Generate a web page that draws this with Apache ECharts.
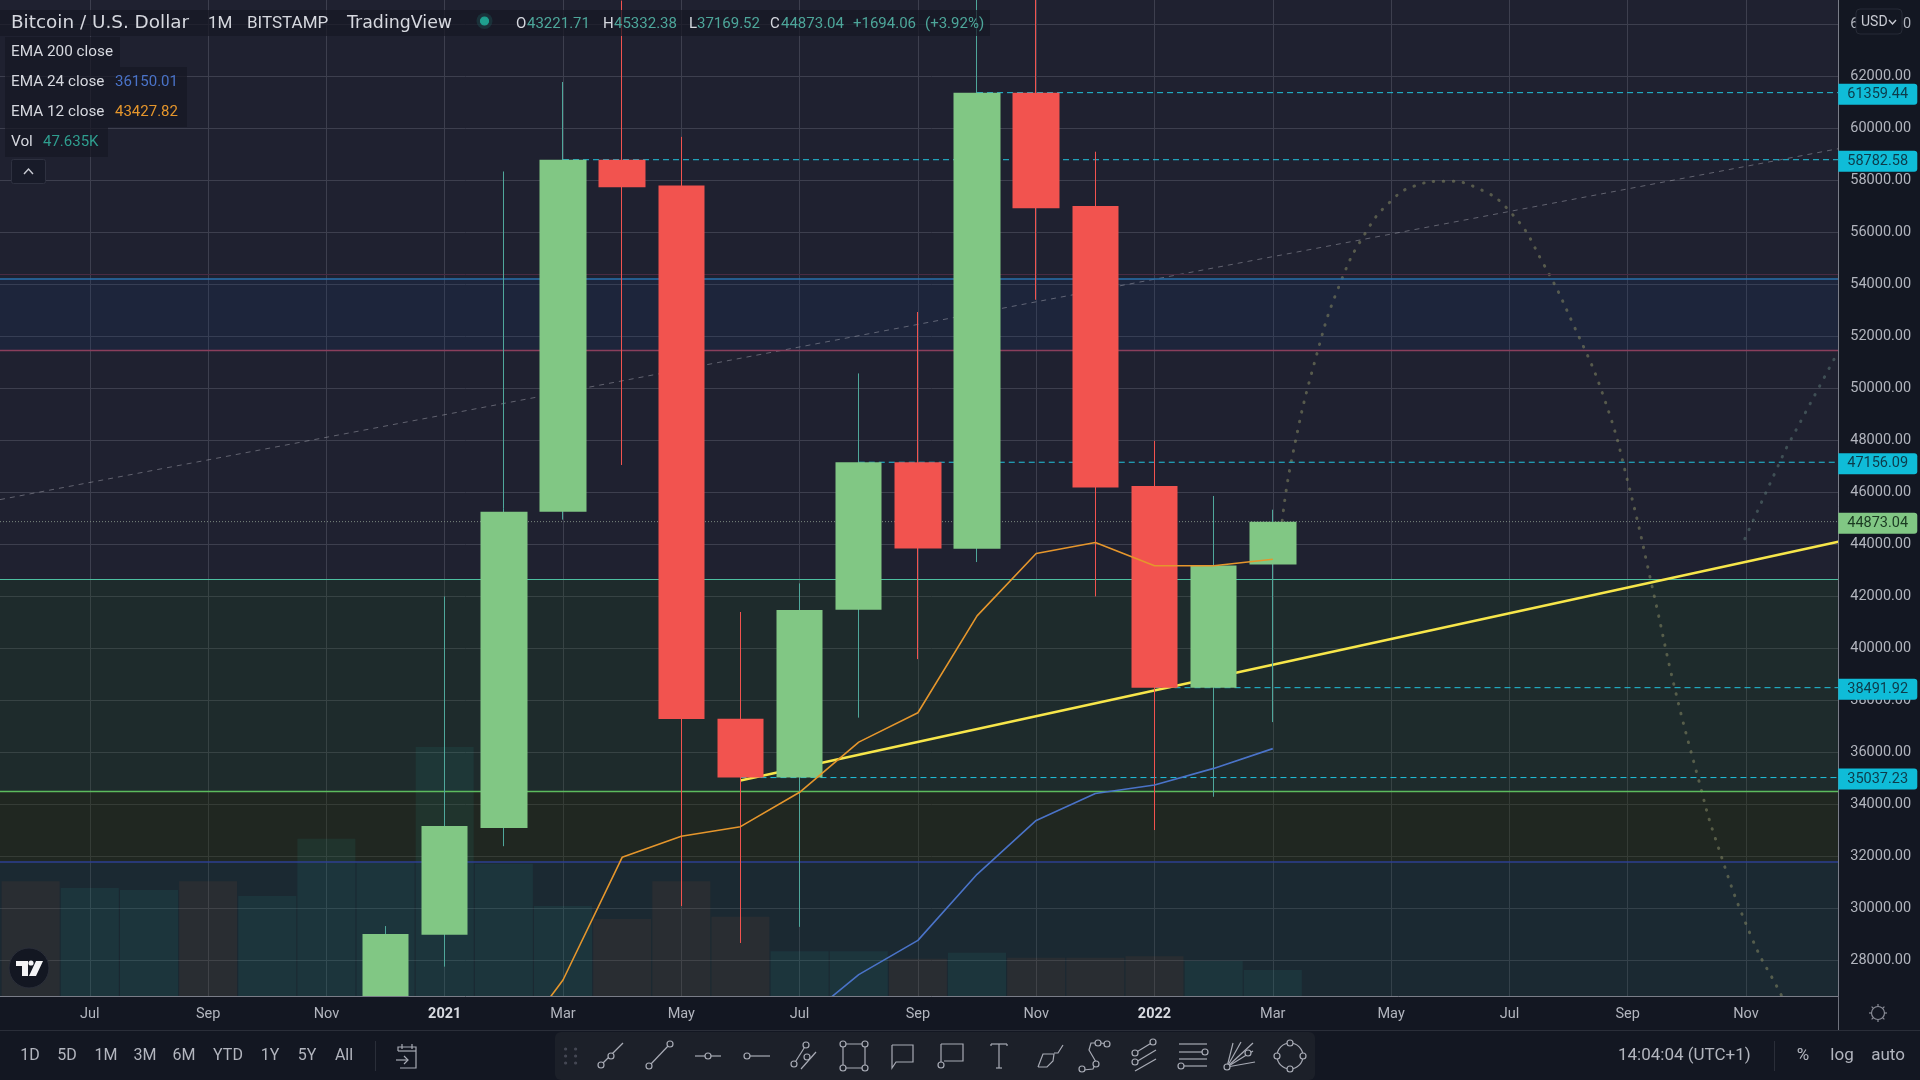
<!DOCTYPE html>
<html><head><meta charset="utf-8">
<style>html,body{margin:0;padding:0;background:#131722}#c{width:1920px;height:1080px}</style>
<script src="https://cdn.jsdelivr.net/npm/echarts@6/dist/echarts.min.js"></script>
</head><body><div id="c"></div>
<script>
// ---------- data ----------
const candleIdx = [5,6,7,8,9,10,11,12,13,14,15,16,17,18,19,20];
const opens  = [19700,29000,33100,45250,58782.58,57790,37300,35037.23,41490,47156.09,43830,61359.44,57000,46240,38491.92,43221.71];
const closes = [29026,33176,45250,58782.58,57720,37290,35037.23,41480,47156.09,43840,61359.44,56920,46190,38491.92,43190,44873.04];
const lows   = [17600,27770,32400,44950,47050,30100,28680,29300,37340,39590,43320,53400,42000,33020,34300,37169.52];
const highs  = [29330,42000,58330,61770,64900,59660,41400,42500,50570,52930,67000,69000,59090,47980,45860,45332.38];

const volIdx = [-1,0,1,2,3,4,5,6,7,8,9,10,11,12,13,14,15,16,17,18,19,20];
const volumes = [210,198,194,210,183,288,245,456,242,165,141,210,145,82,82,68,79,70,70,73,64,47.635];
const volUp = [0,1,1,0,1,1,1,1,1,1,0,0,0,1,1,0,1,0,0,0,1,1];

const ema12Idx = [7,8,9,10,11,12,13,14,15,16,17,18,19,20];
const ema12 = [24200,27258,31973,32780,33150,34471,36400,37530,41250,43650,44070,43180,43180,43427.82];
const ema24Idx = [12,13,14,15,16,17,18,19,20];
const ema24 = [25600,27462,28780,31320,33390,34425,34752,35390,36150.01];

const yellowIdx = [11,29.56];
const yellowVal = [34925,44100];
const grayTrendIdx = [-1.518,29.56];
const grayTrendVal = [45720,59206];

const dotIdx = [20.16,20.32,20.74,21.15,21.57,21.98,22.39,22.91,23.43,24.05,24.57,25.08,25.60,26.02,26.45,26.80,27.20,27.47,28.09,28.60,28.71];
const dotVal = [44920,47273,51274,54097,55980,57156,57768,57956,57721,56686,54803,52450,49626,46238,42003,38426,34944,32779,28920,26661,26096];
const dot2Idx = [27.98,28.67,29.47,29.56];
const dot2Val = [44215,47650,51038,51400];

const tagPrices = [61359.44,58782.58,47156.09,38491.92,35037.23];
const tagStart  = [15,8,13,18,11];
const lastPrice = 44873.04;

const monthTicks = ['Jul','Sep','Nov','2021','Mar','May','Jul','Sep','Nov','2022','Mar','May','Jul','Sep','Nov'];
const rangeButtons = ['1D','5D','1M','3M','6M','YTD','1Y','5Y','All'];
const ohlcText = ['43221.71','45332.38','37169.52','44873.04','+1694.06','(+3.92%)'];

// ---------- scales ----------
const xMin=-2, xMax=30, xEdge=29.56, yMin=26000, yMax=66000;
const UP='#81c784', DOWN='#f2534f', WICKUP='#4fa79b';
const GRIDC='#3d3f4e', TXT='#b2b5be';
const FONT='Roboto, sans-serif';
const WIDE='"DejaVu Sans", sans-serif';

const candlesFull = candleIdx.map((x,k)=>[x,opens[k],closes[k],lows[k],highs[k]]);
const candlesBody = candleIdx.map((x,k)=>[x,opens[k],closes[k],Math.min(opens[k],closes[k]),Math.max(opens[k],closes[k])]);
const zip=(a,b)=>a.map((x,k)=>[x,b[k]]);

function lineSeries(name,data,color,width,z,extra){
  return Object.assign({type:'line',name,data,showSymbol:false,symbol:'none',silent:true,z,clip:true,
    lineStyle:{color,width},animation:false},extra||{});
}

const series=[];
const bandData=[
 [54210,51470,'rgba(20,60,120,0.16)'],
 [42657,34520,'rgba(28,90,30,0.18)'],
 [34520,31820,'rgba(36,54,0,0.3)'],
 [31820,yMin,'rgba(10,80,60,0.18)']
];
const levelData=[
 [54390,'#4a2b42',1],[54210,'#2a70ac',1.6],[51470,'#8a3f5c',1.4],
 [42657,'#4dbfa0',1.2],[34520,'#5cbb5e',1.3],[31820,'#2e3f8f',1.6]
];
series.push({type:'line',name:'levels',data:[[xMin,yMin]],symbol:'none',silent:true,z:2,lineStyle:{width:0},
  markArea:{silent:true,data:bandData.map(b=>[{yAxis:b[0],itemStyle:{color:b[2]}},{yAxis:b[1]}])},
  markLine:{silent:true,symbol:'none',label:{show:false},animation:false,
    data:levelData.map(l=>({yAxis:l[0],lineStyle:{color:l[1],width:l[2],type:'solid'}}))}});
series.push({type:'bar',name:'Vol',xAxisIndex:1,yAxisIndex:1,barWidth:58,z:3,silent:true,
  data:zip(volIdx,volumes),
  itemStyle:{color:p=>volUp[p.dataIndex]?'rgba(38,166,154,0.1)':'rgba(190,90,50,0.09)'}});
series.push(lineSeries('trend',zip(grayTrendIdx,grayTrendVal),'rgba(190,190,200,0.42)',1,3,{lineStyle:{color:'rgba(190,190,200,0.42)',width:1,type:[5,5]}}));
series.push(lineSeries('forecast',zip(dotIdx,dotVal),'rgba(125,128,95,0.6)',3,3,{smooth:true,lineStyle:{color:'rgba(125,128,95,0.6)',width:3,type:[0.5,9.5],cap:'round'}}));
series.push(lineSeries('forecast2',zip(dot2Idx,dot2Val),'rgba(85,110,110,0.6)',3,3,{lineStyle:{color:'rgba(85,110,110,0.6)',width:3,type:[0.5,9.5],cap:'round'}}));
tagPrices.forEach((p,k)=>series.push(lineSeries('p'+k,[[tagStart[k],p],[xEdge,p]],'#22c3dd',1,4,{lineStyle:{color:'#22c3dd',width:1,type:[6,4]}})));
series.push(lineSeries('last',[[-1.518,lastPrice],[xEdge,lastPrice]],'#7c8a80',1,4,{lineStyle:{color:'#7c8a80',width:1,type:[1,2]}}));
series.push(lineSeries('yellow',zip(yellowIdx,yellowVal),'#f7e64a',2.5,5,{lineStyle:{color:'#f7e64a',width:2.5}}));
series.push({type:'candlestick',name:'wick',data:candlesFull,encode:{x:0,y:[1,2,3,4]},barWidth:1,z:6,clip:true,silent:true,
  itemStyle:{color:WICKUP,color0:DOWN,borderColor:WICKUP,borderColor0:DOWN,borderWidth:1}});
series.push({type:'candlestick',name:'body',data:candlesBody,encode:{x:0,y:[1,2,3,4]},barWidth:47,z:7,clip:true,silent:true,
  itemStyle:{color:UP,color0:DOWN,borderColor:UP,borderColor0:DOWN,borderWidth:0}});
series.push(lineSeries('EMA12',zip(ema12Idx,ema12),'#e5962c',1.6,8));
series.push(lineSeries('EMA24',zip(ema24Idx,ema24),'#4a73c8',1.6,8));
const tagLabel=(bg,fg)=>({show:true,position:'right',distance:0,offset:[0,1.5],formatter:p=>p.value[1].toFixed(2),opacity:1,
  backgroundColor:bg,color:fg,fontFamily:FONT,fontSize:14.5,width:70,height:21,lineHeight:21,align:'left',
  padding:[0,0,0,9],borderRadius:[0,3,3,0]});
series.push({type:'scatter',name:'tags',symbolSize:0,silent:true,z:96,clip:false,itemStyle:{opacity:1},
  data:tagPrices.map(p=>({value:[xEdge,p],label:tagLabel('#0fbcd8','#0d3b4a')})).concat([{value:[xEdge,lastPrice],label:tagLabel(UP,'#1b3a22')}])});

// ---------- chrome ----------
const G=[];
const Z=100;
G.push({type:'rect',z:90,silent:true,shape:{x:1838.8,y:0,width:82,height:1031},style:{fill:'#131722'}});
G.push({type:'rect',z:90,silent:true,shape:{x:0,y:996.5,width:1920,height:84},style:{fill:'#131722'}});
const rect=(x,y,w,h,fill,stroke,r)=>G.push({type:'rect',z:Z,silent:true,shape:{x,y,width:w,height:h,r:r||0},style:{fill,stroke:stroke||null,lineWidth:1}});
const text=(t,x,y,fill,size,align,weight,fam)=>G.push({type:'text',z:Z+2,silent:true,x,y,style:{text:t,fill,font:(weight||'normal')+' '+size+'px '+(fam||FONT),textAlign:align||'left',textVerticalAlign:'middle'}});
const poly=(pts,color,w)=>G.push({type:'polyline',z:Z+2,silent:true,shape:{points:pts},style:{stroke:color||'#a8abb5',fill:null,lineWidth:w||1.2}});
const dot=(x,y,r,color,fill)=>G.push({type:'circle',z:Z+2,silent:true,shape:{cx:x,cy:y,r},style:{stroke:color||'#a8abb5',fill:fill===undefined?'#1c2029':fill,lineWidth:1.2}});

rect(0,10,990,26,'rgba(22,24,36,0.72)');
rect(5,37,115,30,'rgba(22,24,36,0.72)');
rect(5,67,182,30,'rgba(22,24,36,0.72)');
rect(5,97,182,30,'rgba(22,24,36,0.72)');
rect(5,127,103,30,'rgba(22,24,36,0.72)');
text('Bitcoin / U.S. Dollar',11,23.5,'#d6d8df',18.4,'left','normal',WIDE);
text('1M',208,23.5,'#d6d8df',17);
text('BITSTAMP',247,23.5,'#d6d8df',17);
text('TradingView',347,23.5,'#d6d8df',17.4,'left','normal',WIDE);
dot(484.5,21,8,'rgba(0,0,0,0)','rgba(30,120,110,0.25)');
dot(484.5,21,4,'#1fa08f','#1fa08f');
const ohlcX=[[516,'O'],[603,'H'],[689,'L'],[770,'C']];
ohlcX.forEach((o,k)=>{text(o[1],o[0],24,'#d6d8df',15);text(ohlcText[k],o[0]+(o[1]==='L'?8:11),24,'#4da69a',15);});
text(ohlcText[4],853,24,'#4da69a',15);
text(ohlcText[5],925,24,'#4da69a',15);
text('EMA 200 close',11,52,'#d6d8df',15.3);
text('EMA 24 close',11,82,'#d6d8df',15.3);text('36150.01',115,82,'#4a73c8',15);
text('EMA 12 close',11,112,'#d6d8df',15.3);text('43427.82',115,112,'#e5962c',15);
text('Vol',11,142,'#d6d8df',15.3);text('47.635K',43,142,'#2f9e8f',15);
rect(11.5,159.5,34,24,'#181b29','#2e3140',2);
poly([[24,174],[28.5,169],[33,174]],'#c8cad2',1.4);

rect(1856,9,46,25,'#131722','#272b37',4);
text('USD',1861,22,'#c8cad2',14);
poly([[1889,20],[1892.5,24],[1896,20]],'#c8cad2',1.4);

G.push({type:'circle',z:Z,silent:true,shape:{cx:29,cy:968,r:20},style:{fill:'#131722',stroke:'#2a2e39',lineWidth:1}});
G.push({type:'polygon',z:Z+2,silent:true,shape:{points:[[16,961],[28,961],[28,976],[22,976],[22,966],[16,966]]},style:{fill:'#f4f4f6'}});
G.push({type:'circle',z:Z+2,silent:true,shape:{cx:31,cy:963,r:2.6},style:{fill:'#f4f4f6'}});
G.push({type:'polygon',z:Z+2,silent:true,shape:{points:[[36,961],[43,961],[36,976],[29,976]]},style:{fill:'#f4f4f6'}});

rect(1839,994,81,36,'#131722');
G.push({type:'line',z:Z+1,silent:true,shape:{x1:0,y1:1030.5,x2:1920,y2:1030.5},style:{stroke:'#2a2e39',lineWidth:1}});
G.push({type:'line',z:Z+1,silent:true,shape:{x1:1838.5,y1:996,x2:1838.5,y2:1030},style:{stroke:'#6f727d',lineWidth:1}});
dot(1878,1013,6.5,'#8a8d97','rgba(0,0,0,0)');
[[0,-9,0,-6.5],[0,6.5,0,9],[-9,0,-6.5,0],[6.5,0,9,0],[-6.4,-6.4,-4.6,-4.6],[6.4,-6.4,4.6,-4.6],[-6.4,6.4,-4.6,4.6],[6.4,6.4,4.6,4.6]].forEach(s=>poly([[1878+s[0],1013+s[1]],[1878+s[2],1013+s[3]]],'#8a8d97',1.2));

const btnX=[30,67,106,145,184,228,270,307,344];
rangeButtons.forEach((b,k)=>text(b,btnX[k],1056,'#b2b5be',16,'center'));
G.push({type:'line',z:Z+1,silent:true,shape:{x1:375.5,y1:1041,x2:375.5,y2:1071},style:{stroke:'#2a2e39',lineWidth:1}});
poly([[398,1051],[398,1047],[416,1047],[416,1068],[400,1068]],'#a8abb5',1.2);
poly([[398,1051],[416,1051]],'#a8abb5',1.2);
poly([[402,1044],[402,1049]],'#a8abb5',1.2);poly([[412,1044],[412,1049]],'#a8abb5',1.2);
poly([[396,1060],[408,1060]],'#a8abb5',1.2);poly([[404,1056],[408,1060],[404,1064]],'#a8abb5',1.2);

text('14:04:04 (UTC+1)',1618,1056,'#b2b5be',17);
G.push({type:'line',z:Z+1,silent:true,shape:{x1:1774.5,y1:1041,x2:1774.5,y2:1071},style:{stroke:'#2a2e39',lineWidth:1}});
text('%',1803,1056,'#b2b5be',17,'center');
text('log',1842,1056,'#b2b5be',17,'center');
text('auto',1888,1056,'#b2b5be',17,'center');

rect(555,1032,760,48,'#1c2029',null,6);
const cy=1056;
[-7,0,7].forEach(d=>[-5,5].forEach(e=>dot(570.6+e,cy+d,1,'#454854','#454854')));
function ic(cx,lines,circles){
  lines.forEach(l=>poly(l.map(p=>[cx+p[0],cy+p[1]])));
  (circles||[]).forEach(c=>dot(cx+c[0],cy+c[1],c[2]||3));
}
ic(611,[[[-8,7],[12,-13]]],[[-10,9],[0,0]]);
ic(660,[[[-10,9],[9,-11]]],[[-11,10],[10,-12]]);
ic(708,[[[-13,0],[13,0]]],[[0,0]]);
ic(757,[[[-10,0],[13,0]]],[[-10,0]]);
ic(805,[[[-11,8],[1,-11]],[[-4,13],[11,-4]]],[[-11,8],[1,-11],[2,1]]);
ic(854,[[[-11,-12],[11,-12],[11,12],[-11,12],[-11,-12]]],[[-11,-12],[11,-12],[-11,12],[11,12]]);
ic(902,[[[-10,-11],[11,-11],[11,6],[-6,6],[-10,12],[-10,-11]]]);
ic(951,[[[-10,-12],[12,-12],[12,5],[-7,5]],[[-10,-12],[-10,6]]],[[-10,9]]);
ic(999,[[[-8,-12],[8,-12]],[[0,-12],[0,12]],[[-3,12],[3,12]],[[-8,-12],[-8,-10]],[[8,-12],[8,-10]]]);
ic(1050,[[[-12,11],[-7,-2],[4,-2],[3,5],[-3,11],[-12,11]],[[4,-3],[8,-3],[13,-11]]]);
ic(1096,[[[-13,14],[-3,13],[0,6],[-7,-6],[-5,-13],[5,-13],[11,-12]]],[[-14,13],[0,8],[2,-13],[11,-12]]);
ic(1145,[[[-10,-3],[8,-14]],[[-9,6],[11,-6]],[[-10,15],[11,3]]],[[-10,-3],[8,-14],[-10,6]]);
ic(1193,[[[-14,-12],[14,-12]],[[-14,-4],[10,-4]],[[-14,3],[14,3]],[[-10,10],[14,10]]],[[12,-4],[-12,10]]);
ic(1241,[[[-14,11],[-8,-13]],[[-14,11],[0,-14]],[[-14,11],[12,-13]],[[-14,11],[12,-5]],[[-14,11],[14,6]]],[[-14,11],[7,-3]]);
ic(1290,[],[[0,0,13]]);
[[0,-13],[-13,0],[13,0],[0,13]].forEach(p=>dot(1290+p[0],cy+p[1],3));

const gridLeft=-28.5, gridW=1892.8, gridTop=-28.08, gridH=1040.8;
const option={
  backgroundColor:'#131722',
  animation:false,
  grid:[
   {show:true,left:gridLeft,top:gridTop,width:gridW,height:gridH,backgroundColor:'#1f2130',borderWidth:0,outerBoundsMode:'none',containLabel:false},
   {show:false,left:gridLeft,top:0,width:gridW,height:996,outerBoundsMode:'none',containLabel:false}
  ],
  xAxis:[
   {type:'value',gridIndex:0,min:xMin,max:xMax,interval:2,offset:-16.72,z:95,
    axisLine:{show:true,onZero:false,lineStyle:{color:'#7a7d88',width:1}},axisTick:{show:false},
    axisLabel:{show:true,margin:11,color:TXT,fontFamily:FONT,fontSize:14.5,
      formatter:v=>{const t=monthTicks[v/2];if(t===undefined)return '';return /^20/.test(t)?'{b|'+t+'}':t;},
      rich:{b:{fontWeight:'bold',color:'#d8dae0',fontFamily:FONT,fontSize:14.5}}},
    splitLine:{show:false}},
   {type:'value',gridIndex:1,min:xMin,max:xMax,interval:2,z:0,
    axisLine:{show:false},axisTick:{show:false},axisLabel:{show:false},
    splitLine:{show:true,lineStyle:{color:GRIDC,width:1}}}
  ],
  yAxis:[
   {type:'value',gridIndex:0,position:'right',offset:-26,min:yMin,max:yMax,interval:2000,z:95,
    axisLine:{show:true,onZero:false,lineStyle:{color:'#7a7d88',width:1}},axisTick:{show:false},
    axisLabel:{show:true,margin:12,showMinLabel:false,color:TXT,fontFamily:FONT,fontSize:14.5,
      formatter:v=>v.toFixed(2)},
    splitLine:{show:false}},
   {type:'value',gridIndex:1,show:false,min:0,max:1824,splitLine:{show:false}},
   {type:'value',gridIndex:0,position:'right',min:yMin,max:yMax,interval:2000,z:0,
    axisLine:{show:false},axisTick:{show:false},axisLabel:{show:false},
    splitLine:{show:true,lineStyle:{color:GRIDC,width:1}}}
  ],
  series,
  graphic:{elements:G}
};
const chart=echarts.init(document.getElementById('c'),null,{renderer:'canvas',width:1920,height:1080});
chart.setOption(option);
</script></body></html>
